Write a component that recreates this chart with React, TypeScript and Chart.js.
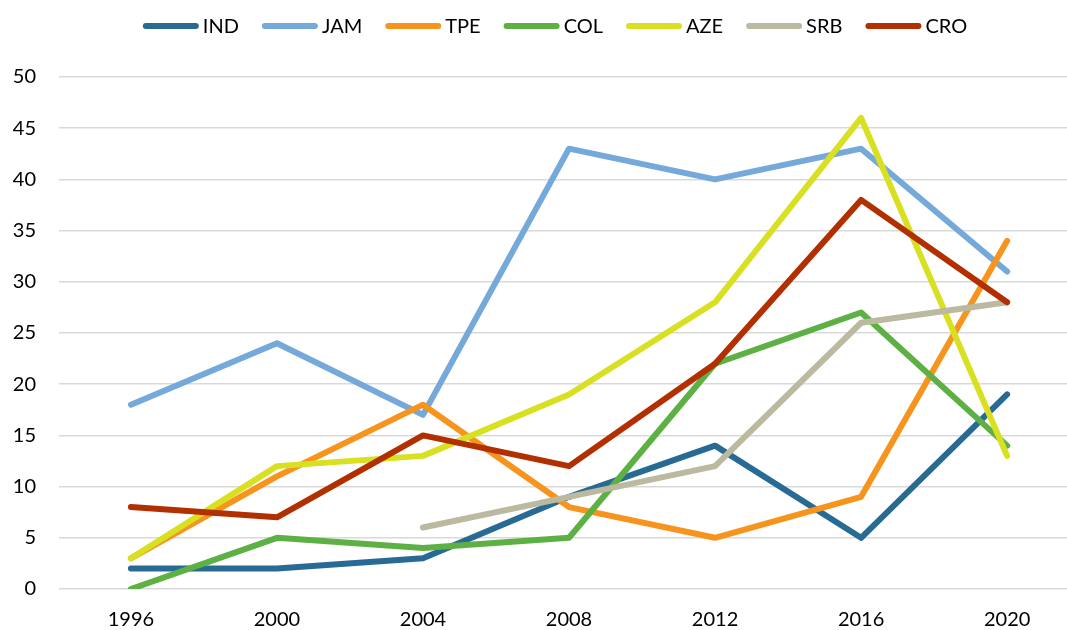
import React, { useEffect, useRef } from "react";
import { Chart, registerables } from "chart.js";

Chart.register(...registerables);

const years = [1996, 2000, 2004, 2008, 2012, 2016, 2020];
const seriesNames = ["IND", "JAM", "TPE", "COL", "AZE", "SRB", "CRO"];
const IND = [2, 2, 3, 9, 14, 5, 19];
const JAM = [18, 24, 17, 43, 40, 43, 31];
const TPE = [3, 11, 18, 8, 5, 9, 34];
const COL = [0, 5, 4, 5, 22, 27, 14];
const AZE = [3, 12, 13, 19, 28, 46, 13];
const SRB = [null, null, 6, 9, 12, 26, 28];
const CRO = [8, 7, 15, 12, 22, 38, 28];
const seriesValues = [IND, JAM, TPE, COL, AZE, SRB, CRO];
const colors = ["#276a94", "#75a9d9", "#f7941d", "#5db044", "#d8e021", "#bbb9a0", "#b23000"];
const yTicks = [0, 5, 10, 15, 20, 25, 30, 35, 40, 45, 50];

const FONT_FAMILY = "Lato, 'Open Sans', sans-serif";
const FONT_SIZE = 20;

const legendPlugin = {
  id: "customLegend",
  afterDraw(chart: any) {
    const ctx = chart.ctx;
    ctx.save();
    ctx.font = `${FONT_SIZE}px ${FONT_FAMILY}`;
    const lineLen = 50;
    const cap = 3;
    const textGap = 7;
    const itemGap = 23;
    const widths = seriesNames.map((n) => ctx.measureText(n).width);
    const itemW = widths.map((w) => cap + lineLen + textGap + w);
    const total = itemW.reduce((a, b) => a + b, 0) + itemGap * (itemW.length - 1);
    const center = 555;
    let x = center - total / 2;
    const y = 26;
    seriesNames.forEach((name, i) => {
      ctx.strokeStyle = colors[i];
      ctx.lineWidth = 6;
      ctx.lineCap = "round";
      ctx.beginPath();
      ctx.moveTo(x + cap, y);
      ctx.lineTo(x + cap + lineLen, y);
      ctx.stroke();
      ctx.fillStyle = "#000";
      ctx.textBaseline = "middle";
      ctx.textAlign = "left";
      ctx.fillText(name, x + cap + lineLen + textGap, y + 1);
      x += itemW[i] + itemGap;
    });
    ctx.restore();
  },
};

export default function App() {
  const ref = useRef<HTMLCanvasElement>(null);
  useEffect(() => {
    if (!ref.current) return;
    const font = { family: FONT_FAMILY, size: FONT_SIZE };
    const chart = new Chart(ref.current, {
      type: "line",
      data: {
        datasets: seriesNames.map((name, i) => ({
          label: name,
          data: years.map((yr, j) => ({ x: yr, y: seriesValues[i][j] })),
          borderColor: colors[i],
          backgroundColor: colors[i],
          borderWidth: 6,
          borderCapStyle: "round",
          borderJoinStyle: "round",
          pointRadius: 0,
          pointHoverRadius: 0,
          tension: 0,
          fill: false,
          order: -i,
        })),
      },
      plugins: [legendPlugin],
      options: {
        animation: false,
        responsive: false,
        layout: { padding: { left: 0, right: 0, top: 77, bottom: 0 } },
        plugins: {
          tooltip: { enabled: false },
          legend: { display: false },
        },
        scales: {
          x: {
            type: "linear",
            min: 1994.03,
            max: 2021.64,
            afterBuildTicks: (axis: any) => {
              axis.ticks = years.map((v) => ({ value: v }));
            },
            afterFit: (axis: any) => {
              axis.height = 41;
              axis.paddingLeft = 0;
              axis.paddingRight = 0;
            },
            grid: { display: false, drawTicks: false },
            border: { display: false },
            ticks: {
              color: "#000",
              font,
              padding: 19,
              maxRotation: 0,
              autoSkip: false,
              callback: (v: any) => String(v),
            },
          },
          y: {
            min: 0,
            max: 50,
            afterBuildTicks: (axis: any) => {
              axis.ticks = yTicks.map((v) => ({ value: v }));
            },
            afterFit: (axis: any) => {
              axis.width = 59;
              axis.paddingTop = 0;
              axis.paddingBottom = 0;
            },
            grid: { color: "#d9d9d9", lineWidth: 1.5, drawTicks: false },
            border: { display: false },
            ticks: { color: "#000", font, padding: 23, callback: (v: any) => String(v) },
          },
        },
      },
    } as any);
    return () => chart.destroy();
  }, []);
  return (
    <div style={{ position: "fixed", left: 0, top: 0, width: 1067, height: 630, overflow: "hidden", background: "#fff" }}>
      <canvas ref={ref} width={1067} height={630} />
    </div>
  );
}
